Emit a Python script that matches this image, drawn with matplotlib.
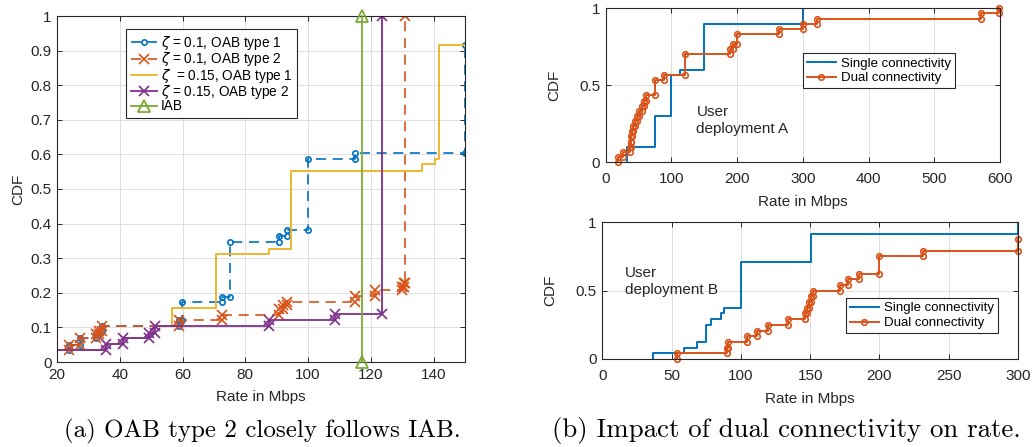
import matplotlib.pyplot as plt

plt.rcParams['font.family'] = ['Liberation Sans', 'DejaVu Sans']
plt.rcParams['mathtext.fontset'] = 'dejavusans'

BLUE = '#0072BD'
ORANGE = '#D95319'
YELLOW = '#EDB120'
PURPLE = '#7E2F8E'
GREEN = '#77AC30'
AXCOL = '#262626'

# (a) rate CDFs, OAB vs IAB (CDF level below 20 Mbps given as *_y0)
oab1_z10_rate = [23.8, 27.2, 32.5, 33.5, 34.3, 59.0, 59.8, 72.5, 75.0, 90.6, 93.4, 100.1, 115.0, 150.0]
oab1_z10_cdf = [0.05, 0.07, 0.08, 0.09, 0.105, 0.12, 0.172, 0.189, 0.346, 0.364, 0.381, 0.586, 0.605, 0.916]
oab1_z10_y0 = 0.035

oab2_z10_rate = [23.8, 27.2, 32.5, 33.5, 34.3, 59.0, 72.5, 90.6, 92.0, 93.4, 115.0, 121.3, 130.0, 130.6, 131.0]
oab2_z10_cdf = [0.05, 0.07, 0.08, 0.09, 0.105, 0.121, 0.137, 0.152, 0.165, 0.174, 0.19, 0.208, 0.218, 0.228, 1.0]
oab2_z10_y0 = 0.035

oab1_z15_rate = [35.6, 41.1, 49.4, 51.2, 56.5, 70.7, 87.7, 94.5, 136.2, 140.5, 141.8]
oab1_z15_cdf = [0.052, 0.07, 0.085, 0.104, 0.157, 0.312, 0.328, 0.553, 0.571, 0.587, 0.915]
oab1_z15_y0 = 0.035

oab2_z15_rate = [35.6, 41.1, 49.4, 51.2, 87.7, 108.6, 123.7]
oab2_z15_cdf = [0.052, 0.07, 0.085, 0.104, 0.121, 0.139, 1.0]
oab2_z15_y0 = 0.035

iab_rate = [117.1]
iab_cdf = [1.0]

# (b) user deployment A, 30 users
depA_users = 30
depA_single_rate = [33, 75, 100, 113, 150, 300]
depA_single_count = [3, 9, 17, 18, 27, 30]
depA_dual_rate = [19, 27, 37, 38, 39, 40, 42, 45, 48, 51, 55, 58, 62, 75, 88, 120,
                  189, 194, 200, 263, 300, 321, 571, 599]
depA_dual_count = [1, 2, 3, 4, 5, 6, 7, 8, 9, 10, 11, 12, 13, 16, 17, 21,
                   22, 23, 25, 26, 27, 28, 29, 30]

# (b) user deployment B, 24 users
depB_users = 24
depB_single_rate = [36.8, 59.2, 68.1, 74.8, 78.2, 86.0, 88.0, 100.0, 150.4, 300.0]
depB_single_count = [1, 2, 3, 6, 7, 8, 9, 17, 22, 24]
depB_dual_rate = [53.7, 90.0, 91.0, 104.7, 111.4, 119.8, 134.2, 146.3, 148.0, 149.0,
                  150.5, 152.0, 171.5, 177.5, 185.5, 200.0, 231.2, 300.0]
depB_dual_count = [1, 2, 3, 4, 5, 6, 7, 8, 9, 10, 11, 12, 13, 14, 15, 18, 19, 21]


def cdf_steps(rate, cdf, y0=0.0, x_from=None, x_to=None):
    # vertical jump at each rate; marker indices point at both ends of every jump
    xs, ys = [], []
    if x_from is not None:
        xs.append(x_from)
        ys.append(y0)
    prev = y0
    for r, c in zip(rate, cdf):
        xs += [r, r]
        ys += [prev, c]
        prev = c
    first = len(xs) - 2 * len(rate)
    if x_to is not None:
        xs.append(x_to)
        ys.append(prev)
    return xs, ys, list(range(first, first + 2 * len(rate)))


def style_axes(ax, xlim, xticks, yticks, yticklabels, xpad=4, xlabelpad=3, ylabelpad=4):
    ax.set_xlim(xlim)
    ax.set_ylim(0, 1)
    ax.set_xticks(xticks)
    ax.set_yticks(yticks)
    ax.set_yticklabels(yticklabels)
    ax.grid(True, color='#dedede', linewidth=0.7)
    ax.set_axisbelow(True)
    ax.tick_params(direction='in', top=True, right=True, length=3.5, width=0.7,
                   colors=AXCOL, labelsize=11, pad=4)
    ax.tick_params(axis='x', pad=xpad)
    for s in ax.spines.values():
        s.set_color(AXCOL)
        s.set_linewidth(0.8)
    ax.set_xlabel('Rate in Mbps', fontsize=11, color=AXCOL, labelpad=xlabelpad)
    ax.set_ylabel('CDF', fontsize=11, color=AXCOL, labelpad=ylabelpad)


W, H = 1034, 447
fig = plt.figure(figsize=(W / 100, H / 100), dpi=100)

# ---- (a) ----
ax = fig.add_axes([57 / W, (H - 362) / H, 408 / W, 346 / H])
dash = (6, 4)
x, y, m = cdf_steps(oab1_z10_rate, oab1_z10_cdf, oab1_z10_y0, x_from=20)
ax.plot(x, y, color=BLUE, lw=1.2, dashes=dash, marker='o', markevery=m, ms=3.8,
        mfc='none', mew=1.2, label=r'$\zeta$ = 0.1, OAB type 1')
x, y, m = cdf_steps(oab2_z10_rate, oab2_z10_cdf, oab2_z10_y0, x_from=20)
ax.plot(x, y, color=ORANGE, lw=1.2, dashes=dash, marker='x', markevery=m, ms=7,
        mew=1.2, label=r'$\zeta$ = 0.1, OAB type 2')
x, y, m = cdf_steps(oab1_z15_rate, oab1_z15_cdf, oab1_z15_y0, x_from=20, x_to=150)
ax.plot(x, y, color=YELLOW, lw=1.3, label=r'$\zeta$  = 0.15, OAB type 1')
x, y, m = cdf_steps(oab2_z15_rate, oab2_z15_cdf, oab2_z15_y0, x_from=20)
ax.plot(x, y, color=PURPLE, lw=1.3, marker='x', markevery=m, ms=7, mew=1.2,
        label=r'$\zeta$ = 0.15, OAB type 2')
x, y, m = cdf_steps(iab_rate, iab_cdf)
ax.plot(x, y, color=GREEN, lw=1.3, marker='^', markevery=m, ms=8, mfc='none',
        mew=1.3, label='IAB', clip_on=False, zorder=5)
style_axes(ax, (20, 150), range(20, 141, 20), [i / 10 for i in range(11)],
           ['0'] + ['0.%d' % i for i in range(1, 10)] + ['1'], xlabelpad=6)
leg = ax.legend(loc='upper left', bbox_to_anchor=(0.169, 0.962), borderaxespad=0,
                fontsize=9.8, fancybox=False, edgecolor=AXCOL, framealpha=1,
                handlelength=1.9, handletextpad=0.3, labelspacing=-0.12,
                borderpad=0.35)
leg.get_frame().set_linewidth(0.8)

# ---- (b) deployment A ----
ax = fig.add_axes([605.7 / W, (H - 162) / H, 394.3 / W, 153.7 / H])
x, y, m = cdf_steps(depA_single_rate, [c / depA_users for c in depA_single_count])
ax.plot(x, y, color=BLUE, lw=1.4, label='Single connectivity')
x, y, m = cdf_steps(depA_dual_rate, [c / depA_users for c in depA_dual_count])
ax.plot(x, y, color=ORANGE, lw=1.4, marker='o', markevery=m, ms=4, mfc='none',
        mew=1.2, label='Dual connectivity', clip_on=False)
style_axes(ax, (0, 600), range(0, 601, 100), [0, 0.5, 1], ['0', '0.5', '1'],
           xpad=7, xlabelpad=7, ylabelpad=13)
ax.text(138, 0.37, 'User\ndeployment A', fontsize=11, color=AXCOL, va='top',
        linespacing=1.3)
leg = ax.legend(loc='upper left', bbox_to_anchor=(0.4996, 0.707), borderaxespad=0,
                fontsize=9.5, fancybox=False, edgecolor=AXCOL, framealpha=1,
                handlelength=2.2, handletextpad=0.4, labelspacing=0.2,
                borderpad=0.3)
leg.get_frame().set_linewidth(0.8)

# ---- (b) deployment B ----
ax = fig.add_axes([602.3 / W, (H - 359) / H, 415.7 / W, 136.7 / H])
x, y, m = cdf_steps(depB_single_rate, [c / depB_users for c in depB_single_count])
ax.plot(x, y, color=BLUE, lw=1.4, label='Single connectivity')
x, y, m = cdf_steps(depB_dual_rate, [c / depB_users for c in depB_dual_count])
ax.plot(x, y, color=ORANGE, lw=1.4, marker='o', markevery=m, ms=4, mfc='none',
        mew=1.2, label='Dual connectivity', clip_on=False)
style_axes(ax, (0, 300), range(0, 301, 50), [0, 0.5, 1], ['0', '0.5', '1'],
           xpad=7, xlabelpad=7, ylabelpad=13)
ax.text(16.4, 0.68, 'User\ndeployment B', fontsize=11, color=AXCOL, va='top',
        linespacing=1.3)
leg = ax.legend(loc='upper left', bbox_to_anchor=(0.586, 0.444), borderaxespad=0,
                fontsize=9.5, fancybox=False, edgecolor=AXCOL, framealpha=1,
                handlelength=2.2, handletextpad=0.4, labelspacing=0.2,
                borderpad=0.3)
leg.get_frame().set_linewidth(0.8)

# captions
fig.text(262 / W, 1 - 437 / H, '(a) OAB type 2 closely follows IAB.', family='cmr10',
         fontsize=18, ha='center', va='baseline')
fig.text(786 / W, 1 - 437 / H, '(b) Impact of dual connectivity on rate.', family='cmr10',
         fontsize=19.3, ha='center', va='baseline')

fig.savefig('out.png', dpi=100)
